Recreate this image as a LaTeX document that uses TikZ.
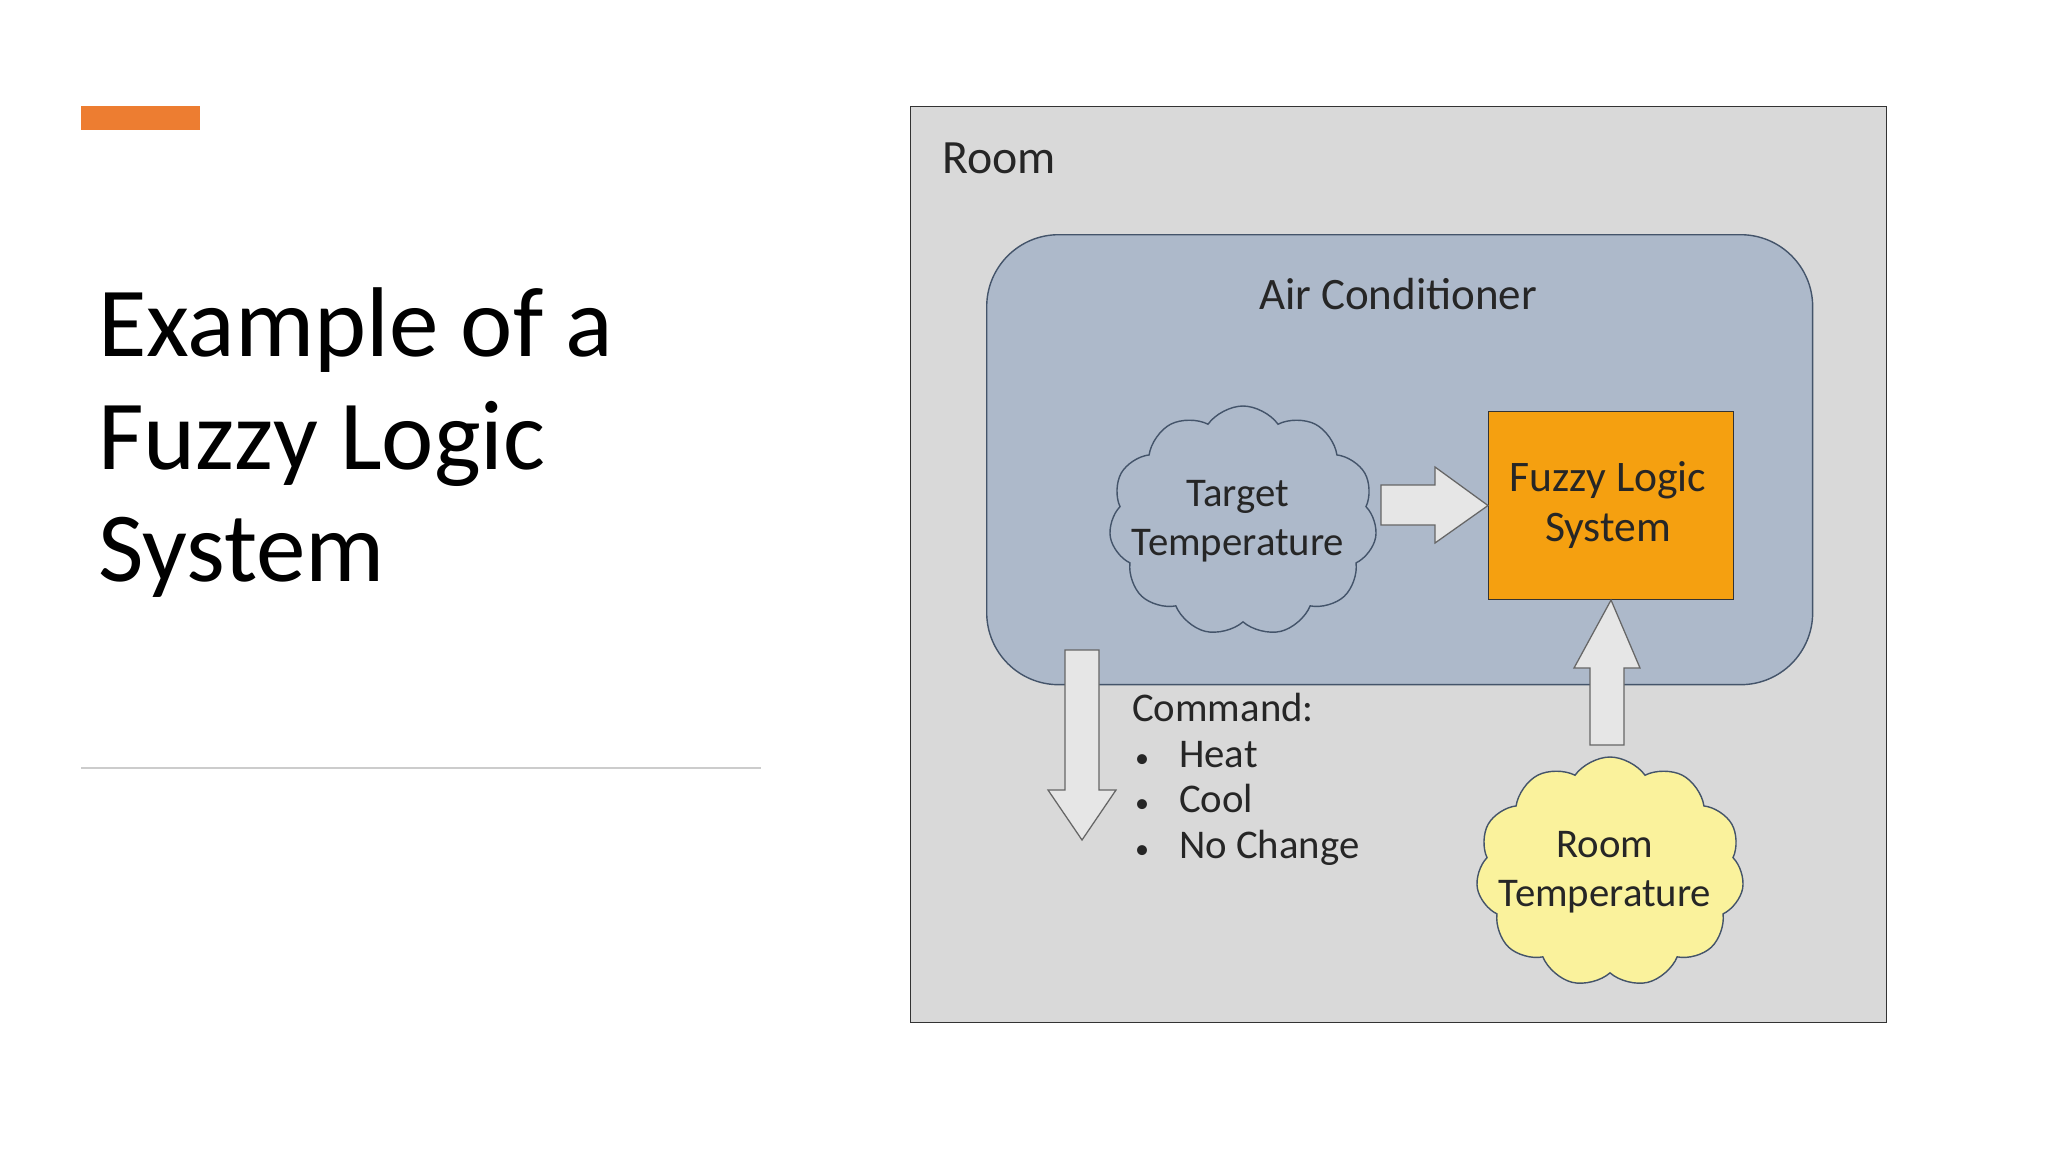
\documentclass[tikz,border=0pt]{standalone}
\usepackage{fontspec}
\setmainfont{Carlito}
\usetikzlibrary{shapes.symbols}
\definecolor{roomgray}{HTML}{D9D9D9}
\definecolor{acblue}{HTML}{ADB9CA}
\definecolor{acedge}{HTML}{44546A}
\definecolor{fzorange}{HTML}{F5A010}
\definecolor{cloudy}{HTML}{FAF29C}
\definecolor{barorange}{HTML}{ED7D31}
\definecolor{arrowfill}{HTML}{E6E6E6}
\tikzset{
  lbl/.style={font=\fontsize{58}{70}\selectfont, text=black!85, align=center},
  cloudbox/.style={cloud, cloud puffs=11, cloud puff arc=110, aspect=1.2, draw=acedge, line width=2pt, minimum width=13.4cm, minimum height=11.5cm, inner sep=0pt},
  bigarrow/.style={draw=black!60, fill=arrowfill, line width=1.8pt, line join=miter},
}
\begin{document}
\begin{tikzpicture}[x=0.05cm,y=-0.05cm]
\useasboundingbox[fill=white] (0,0) rectangle (2048,1152);
\fill[barorange] (81,106) rectangle (200,130);
\node[anchor=north west, align=left, font=\fontsize{141}{160}\selectfont, inner sep=0pt] (title) at (98,288) {Example of a\\Fuzzy Logic\\System};
\draw[black!20, line width=3pt] (81,768) -- (761,768);
\node[draw=black!80, fill=roomgray, line width=1.5pt, minimum width=48.8cm, minimum height=45.8cm, anchor=north west] (room) at (910,106) {};
\node[lbl, font=\fontsize{68}{80}\selectfont, anchor=west] (roomlbl) at (940,158) {Room};
\node[draw=acedge, fill=acblue, line width=2pt, rounded corners=3.6cm, minimum width=41.3cm, minimum height=22.5cm, anchor=north west] (ac) at (986,234) {};
\node[lbl, font=\fontsize{64}{76}\selectfont] (aclbl) at (1398,294) {Air Conditioner};
\node[cloudbox, fill=acblue] (target) at (1243,521) {};
\node[lbl] at (1238,521) {Target\\Temperature};
\node[draw=black!80, fill=fzorange, line width=1.5pt, minimum width=12.25cm, minimum height=9.4cm, anchor=north west] (fls) at (1488,411) {};
\node[lbl, font=\fontsize{62}{72}\selectfont] at (1608,505) {Fuzzy Logic\\System};
\node[cloudbox, fill=cloudy] (roomtemp) at (1610,872) {};
\node[lbl] at (1605,872) {Room\\Temperature};
% right arrow
\draw[bigarrow] (1381,485) -- (1435,485) -- (1435,467) -- (fls.west) -- (1435,543) -- (1435,525) -- (1381,525) -- cycle;
% up arrow
\draw[bigarrow] (1590,745) -- (1590,668) -- (1574,668) -- (fls.south) -- (1640,668) -- (1624,668) -- (1624,745) -- cycle;
% down arrow
\draw[bigarrow] (1065,650) -- (1099,650) -- (1099,790) -- (1116,790) -- (1082,840) -- (1048,790) -- (1065,790) -- cycle;
\node[lbl, align=left, anchor=north west, font=\fontsize{58}{65}\selectfont, inner sep=0pt] (cmd) at (1132,693)
{Command:\\\makebox[2.35cm][l]{\hspace{0.15cm}\fontsize{40}{40}\selectfont•}Heat\\\makebox[2.35cm][l]{\hspace{0.15cm}\fontsize{40}{40}\selectfont•}Cool\\\makebox[2.35cm][l]{\hspace{0.15cm}\fontsize{40}{40}\selectfont•}No Change};
\end{tikzpicture}
\end{document}
